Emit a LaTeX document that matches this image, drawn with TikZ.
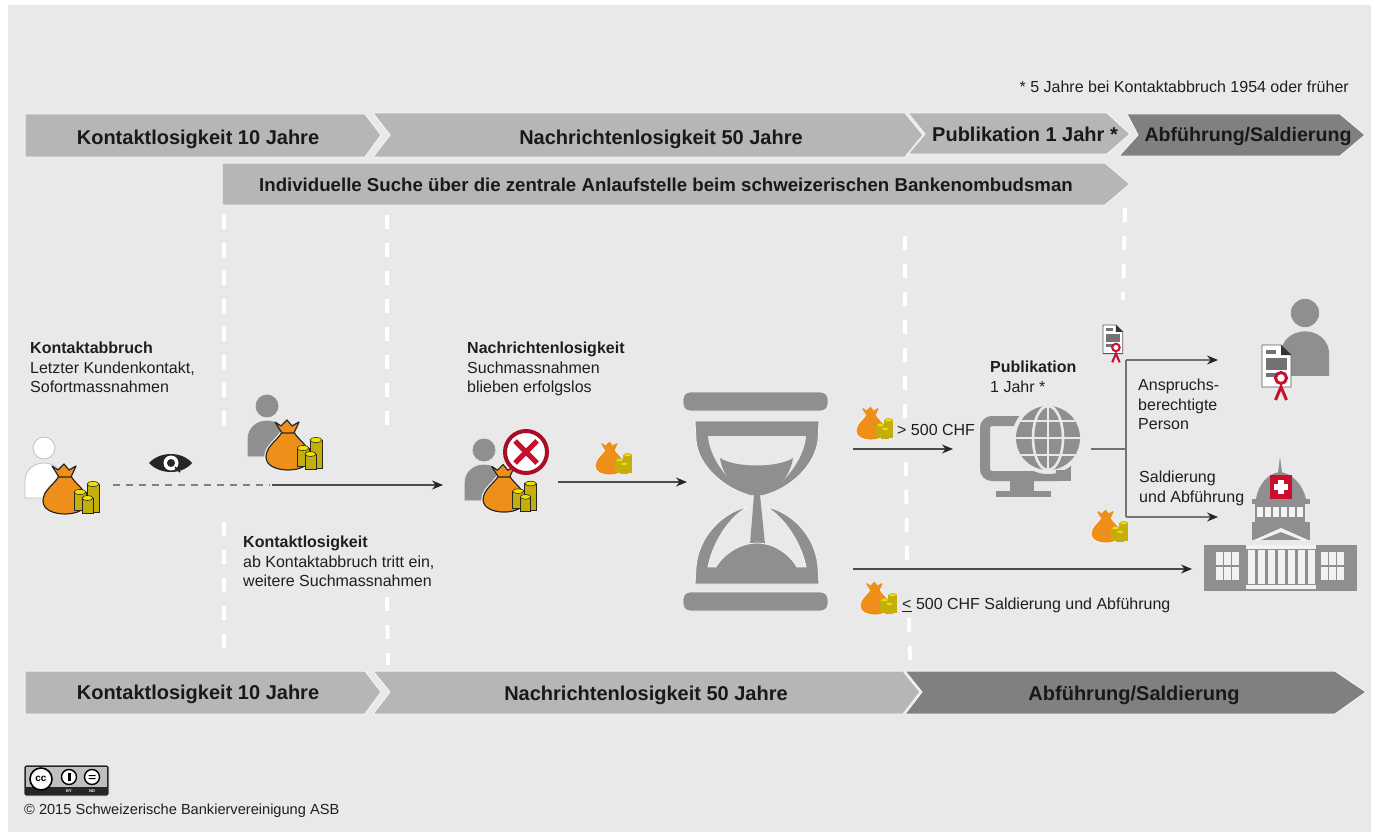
\documentclass[tikz,border=0pt]{standalone}
\usepackage{fontspec}
\setmainfont{Liberation Sans}
\usetikzlibrary{arrows.meta}
\definecolor{panel}{HTML}{E9E9E9}
\definecolor{chev}{HTML}{B6B6B6}
\definecolor{chevdark}{HTML}{808080}
\definecolor{icon}{HTML}{8F8F8F}
\definecolor{halo}{HTML}{F4F4F4}
\definecolor{bagor}{HTML}{EE8F1A}
\definecolor{coin}{HTML}{C4AE0C}
\definecolor{cointop}{HTML}{EFE000}
\definecolor{seal}{HTML}{C8102E}
\tikzset{
  chevron/.style={fill=chev,draw=halo,line width=1pt,line join=round},
  chevrondark/.style={fill=chevdark,draw=halo,line width=1pt,line join=round},
  head/.style={font=\bfseries\fontsize{20}{22}\selectfont,anchor=base,inner sep=0pt,text=black!90},
  body/.style={font=\fontsize{16}{19.5}\selectfont,align=left,anchor=north west,inner sep=0pt,text=black!88},
  gap/.style={white,line width=4pt,dash pattern=on 14pt off 14pt},
  flow/.style={draw=black!70,line width=1.3pt},
  flowarrow/.style={flow,-{Stealth[length=11pt,width=9pt,black!85]}},
  glyph/.style={fill=icon,draw=halo,line width=.8pt,line join=round},
  light/.style={fill=panel!60!white,draw=none},
}
% x, y, scale, bag outline colour, coin outline colour
\newcommand{\mybag}[5]{%
 \begin{scope}[shift={(#1,#2)},scale=#3]
  \path[fill=bagor,draw=#4,line width=1.2pt,line join=round,preaction={draw=halo,line width=3.5pt}]
    (-6,-19) .. controls (-10,-11) and (-22,-5) .. (-22,6)
    .. controls (-22,15) and (-11,19) .. (0,19)
    .. controls (11,19) and (22,15) .. (22,6)
    .. controls (22,-5) and (10,-11) .. (6,-19) -- cycle;
  \path[fill=bagor,draw=#4,line width=1.2pt,line join=round]
    (-6,-18) -- (-13,-29) -- (-7,-25) -- (-1,-31) -- (4,-25) -- (11,-29) -- (6,-18) -- cycle;
  \foreach \xa/\xb/\ya/\yb in {22/34/-11/17, 9/21/-3/15, 17/28/3/18}{
   \path[fill=coin,draw=#5,line width=.9pt] (\xa,\ya) rectangle (\xb,\yb);
   \path[fill=cointop,draw=#5,line width=.6pt] ({(\xa+\xb)/2},\ya) ellipse [x radius={(\xb-\xa)/2},y radius=2.5];
  }
 \end{scope}}
% x, y of head, scale, fill, draw
\newcommand{\myperson}[5]{%
 \begin{scope}[shift={(#1,#2)},scale=#3]
  \path[fill=#4,draw=#5,line width=.8pt] (0,0) circle [radius=11];
  \path[fill=#4,draw=#5,line width=.8pt] (-19,50) -- (-19,33) .. controls (-19,22) and (-10,15) .. (0,15)
     .. controls (10,15) and (19,22) .. (19,33) -- (19,50) -- cycle;
 \end{scope}}
% x, y of top-left, scale
\newcommand{\mycert}[3]{%
 \begin{scope}[shift={(#1,#2)},scale=#3]
  \path[fill=white,draw=black!65,line width=.9pt,line join=round] (0,0) -- (19,0) -- (29,10) -- (29,42) -- (0,42) -- cycle;
  \path[fill=black!80] (19,0) -- (29,10) -- (19,10) -- cycle;
  \path[fill=black!55] (4,5) rectangle (14,9);
  \path[fill=black!55] (4,13) rectangle (25,25);
  \path[fill=black!55] (4,28) rectangle (14,32);
  \draw[seal,line width=#3*3pt] (13.5,55) -- (19,42) -- (24.5,55);
  \path[fill=white,draw=seal,line width=#3*3pt] (19,33) circle [radius=5.5];
 \end{scope}}
\begin{document}
\begin{tikzpicture}[x=1pt,y=-1pt]
\useasboundingbox (0,0) rectangle (1375,832);
\path[fill=white] (0,0) rectangle (1375,832);
\path[fill=panel] (8,5) rectangle (1371,832);
% chevrons top
\path[chevron] (25,114) -- (365,114) -- (381,135) -- (365,157) -- (25,157) -- cycle;
\path[chevron] (373,113) -- (905,113) -- (923,135) -- (905,157) -- (373,157) -- (390,135) -- cycle;
\path[chevron] (908,113) -- (1107,113) -- (1130,134) -- (1107,154) -- (908,154) -- (925,134) -- cycle;
\path[chevrondark] (1127,114) -- (1340,114) -- (1365,135) -- (1340,156) -- (1119,156) -- (1138,135) -- cycle;
\path[chevron] (222,163) -- (1105,163) -- (1130,184) -- (1105,205) -- (222,205) -- cycle;
% chevrons bottom
\path[chevron] (25,671) -- (365,671) -- (381,692) -- (365,714) -- (25,714) -- cycle;
\path[chevron] (373,671) -- (903,671) -- (920,692) -- (903,714) -- (373,714) -- (390,692) -- cycle;
\path[chevrondark] (905,671) -- (1335,671) -- (1366,692) -- (1335,714) -- (905,714) -- (922,692) -- cycle;
% white dashed phase lines
\draw[gap] (224,215) -- (224,430);
\draw[gap] (224,522) -- (224,655);
\draw[gap] (387,215) -- (387,430);
\draw[gap] (387,597) -- (388,665);
\draw[gap] (905,236) -- (905,430);
\draw[gap] (906,462) -- (907,565);
\draw[gap] (909,618) -- (910,665);
\draw[gap] (1125,208) -- (1123,300);
% connector points
\coordinate (dashA) at (113,485);
\coordinate (dashB) at (270,485);
\coordinate (flowAend) at (443,485);
\coordinate (flowBstart) at (558,482);
\coordinate (flowBend) at (687,482);
\coordinate (flowCstart) at (853,449);
\coordinate (flowCend) at (953,449);
\coordinate (pubOut) at (1091,449);
\coordinate (split) at (1126,449);
\coordinate (splitTop) at (1126,360);
\coordinate (splitBot) at (1126,517);
\coordinate (claimEnd) at (1218,360);
\coordinate (stateEnd) at (1218,517);
\coordinate (flowDstart) at (853,569);
\coordinate (flowDend) at (1192,569);
% connectors
\draw[black!50,line width=1.6pt,dash pattern=on 6.5pt off 6.5pt] (dashA) -- (dashB);
\draw[flowarrow] (dashB) ++(2,0) -- (flowAend);
\draw[flowarrow] (flowBstart) -- (flowBend);
\draw[flowarrow] (flowCstart) -- (flowCend);
\draw[flow,black!55] (pubOut) -- (split);
\draw[flow,black!55] (splitBot) -- (splitTop);
\draw[flowarrow,black!55] (splitTop) -- (claimEnd);
\draw[flowarrow,black!55] (splitBot) -- (stateEnd);
\draw[flowarrow] (flowDstart) -- (flowDend);
% persons and bags
\myperson{44}{448}{1}{white}{black!25}
\mybag{65}{495}{1}{black!85}{black!85}
\myperson{267}{406}{1}{icon}{icon}
\mybag{288}{451}{1}{black!85}{black!85}
\myperson{484}{450}{1}{icon}{icon}
\mybag{504}{494}{.95}{black!85}{black!85}
\path[fill=white,draw=seal!85!black,line width=4pt] (526,452) circle [radius=21];
\draw[seal,line width=5pt] (515,441) -- (537,463) (537,441) -- (515,463);
\mybag{610}{462}{.63}{bagor}{coin}
\mybag{871}{427}{.63}{bagor}{coin}
\mybag{1106}{530}{.63}{bagor}{coin}
\mybag{875}{602}{.63}{bagor}{coin}
% eye
\path[fill=black!85] (149,463) .. controls (160,451) and (182,451) .. (192,463) .. controls (182,475) and (160,475) .. (149,463) -- cycle;
\path[fill=white] (171,463) circle [radius=7.5];
\path[fill=black!85] (171,463) circle [radius=4];
\draw[black!85,line width=1.6pt] (175,467) -- (180,472);
% hourglass
\path[glyph,rounded corners=7pt] (683,392) rectangle (828,411);
\path[glyph,rounded corners=7pt] (683,592) rectangle (828,611);
\path[glyph] (695,421) -- (819,421) -- (818,440) .. controls (815,466) and (790,488) .. (765,495)
   -- (749,495) .. controls (724,488) and (698,466) .. (696,440) -- cycle;
\path[fill=panel] (708,436) -- (806,436) .. controls (805,455) and (788,482) .. (765,494)
   -- (749,494) .. controls (726,482) and (709,455) .. (708,436) -- cycle;
\path[fill=icon] (720,458) .. controls (735,468) and (778,468) .. (793,458)
   .. controls (790,478) and (775,492) .. (762,495) -- (751,495) .. controls (738,492) and (723,478) .. (720,458) -- cycle;
\path[fill=icon] (754,495) -- (760,495) -- (765,544) -- (750,544) -- cycle;
\path[glyph] (695,584) -- (696,568) .. controls (698,535) and (725,511) .. (748,507)
   .. controls (728,517) and (712,545) .. (708,567) -- (716,567)
   .. controls (725,552) and (742,543) .. (757,543) .. controls (772,543) and (788,552) .. (797,567)
   -- (806,567) .. controls (802,545) and (785,517) .. (766,507)
   .. controls (790,511) and (816,535) .. (818,568) -- (819,584) -- cycle;
% monitor with globe
\draw[icon,line width=10pt,rounded corners=7pt] (985,421) rectangle (1066,476);
\path[fill=panel] (1048,438) circle [radius=36];
\path[fill=icon] (1010,481) rectangle (1034,492);
\path[fill=icon] (996,491) rectangle (1051,497);
\path[fill=icon] (1056,470) -- (1071,470) -- (1071,481) -- (1056,481) -- cycle;
\path[fill=icon] (1048,438) circle [radius=32];
\begin{scope}
 \clip (1048,438) circle [radius=32];
 \draw[panel,line width=2.6pt] (1048,406) -- (1048,470);
 \draw[panel,line width=2.6pt] (1048,438) ellipse [x radius=15,y radius=32];
 \draw[panel,line width=2.6pt] (1016,438) -- (1080,438);
 \draw[panel,line width=2.6pt] (1018,421) -- (1078,421);
 \draw[panel,line width=2.6pt] (1018,455) -- (1078,455);
\end{scope}
% certificates and claimant
\myperson{1305}{313}{1.25}{icon}{icon}
\mycert{1262}{345}{1}
\mycert{1103}{325}{.68}
% parliament building
\path[fill=icon] (1204,545) rectangle (1357,591);
\foreach \wx in {1216,1321}{
 \foreach \c in {0,8,16}{ \foreach \r in {552,567}{
   \path[light] (\wx+\c,\r) rectangle (\wx+\c+7,\r+13);
 }}}
\path[light] (1246,545) rectangle (1316,549);
\path[light] (1246,585) rectangle (1316,589);
\foreach \cx in {1248,1258,1268,1278,1288,1298,1308}{ \path[light] (\cx,550) rectangle (\cx+6.5,584); }
\path[fill=icon] (1252,522) rectangle (1310,540);
\path[light] (1254,540) -- (1281,528) -- (1308,540) -- (1304,541) -- (1281,532) -- (1258,541) -- cycle;
\path[fill=icon] (1255,504) rectangle (1305,523);
\foreach \dx in {1257,1265,1273,1281,1289,1297}{ \path[light] (\dx,507) rectangle (\dx+6,517); }
\path[fill=icon] (1252,499) rectangle (1310,504);
\path[fill=icon] (1256,499) .. controls (1258,485) and (1268,473) .. (1280,472) .. controls (1292,473) and (1303,485) .. (1306,499) -- cycle;
\path[fill=icon] (1278,473) -- (1280,457) -- (1282,473) -- cycle;
\path[fill=seal] (1270,475) rectangle (1292,499);
\path[fill=white] (1278,480) rectangle (1284,494);
\path[fill=white] (1274,484) rectangle (1288,490);
% cc badge
\path[fill=black!85,rounded corners=2pt,draw=halo,line width=.8pt] (24,765) rectangle (109,796);
\path[fill=black!25] (26,767) rectangle (107,787);
\path[fill=white,draw=black,line width=1.6pt] (41,779) circle [radius=11];
\node (ccmark) at (41,779) [inner sep=0pt,font=\bfseries\fontsize{10}{10}\selectfont] {cc};
\path[fill=white,draw=black,line width=1.4pt] (69,777) circle [radius=7.5];
\path[fill=black] (67.5,773) rectangle (70.5,781);
\path[fill=white,draw=black,line width=1.4pt] (92,777) circle [radius=7.5];
\path[fill=black] (88.5,775) rectangle (95.5,776.2) (88.5,778) rectangle (95.5,779.2);
\node (ccby) at (69,791.5) [inner sep=0pt,text=white,font=\bfseries\fontsize{4}{4}\selectfont] {BY};
\node (ccnd) at (92,791.5) [inner sep=0pt,text=white,font=\bfseries\fontsize{4}{4}\selectfont] {ND};
% labels in chevrons
\node[head] (t1) at (198,144) {Kontaktlosigkeit 10 Jahre};
\node[head] (t2) at (661,144) {Nachrichtenlosigkeit 50 Jahre};
\node[head] (t3) at (1025,141) {Publikation 1 Jahr *};
\node[head,font=\bfseries\fontsize{19.6}{22}\selectfont] (t4) at (1248,142) {Abführung/Saldierung};
\node[head,font=\bfseries\fontsize{18.65}{20}\selectfont] (t5) at (666,191) {Individuelle Suche über die zentrale Anlaufstelle beim schweizerischen Bankenombudsman};
\node[head] (b1) at (198,699) {Kontaktlosigkeit 10 Jahre};
\node[head] (b2) at (646,700) {Nachrichtenlosigkeit 50 Jahre};
\node[head] (b3) at (1134,700) {Abführung/Saldierung};
% body labels
\node[body,anchor=north east] (note) at (1349,81) {* 5 Jahre bei Kontaktabbruch 1954 oder früher};
\node[body] (l1) at (30,342) {\textbf{Kontaktabbruch}\\Letzter Kundenkontakt,\\Sofortmassnahmen};
\node[body] (l2) at (243,536) {\textbf{Kontaktlosigkeit}\\ab Kontaktabbruch tritt ein,\\weitere Suchmassnahmen};
\node[body] (l3) at (467,342) {\textbf{Nachrichtenlosigkeit}\\Suchmassnahmen\\blieben erfolgslos};
\node[body] (l4) at (990,361) {\textbf{Publikation}\\1 Jahr *};
\node[body] (l5) at (1138,379) {Anspruchs-\\berechtigte\\Person};
\node[body] (l6) at (1139,471) {Saldierung\\und Abführung};
\node[body] (l7) at (897,424) {> 500 CHF};
\node[body] (l8) at (902,598) {\underline{<} 500 CHF Saldierung und Abführung};
\node[body,font=\fontsize{14.6}{19.5}\selectfont] (l9) at (24,804) {© 2015 Schweizerische Bankiervereinigung ASB};
\end{tikzpicture}
\end{document}
